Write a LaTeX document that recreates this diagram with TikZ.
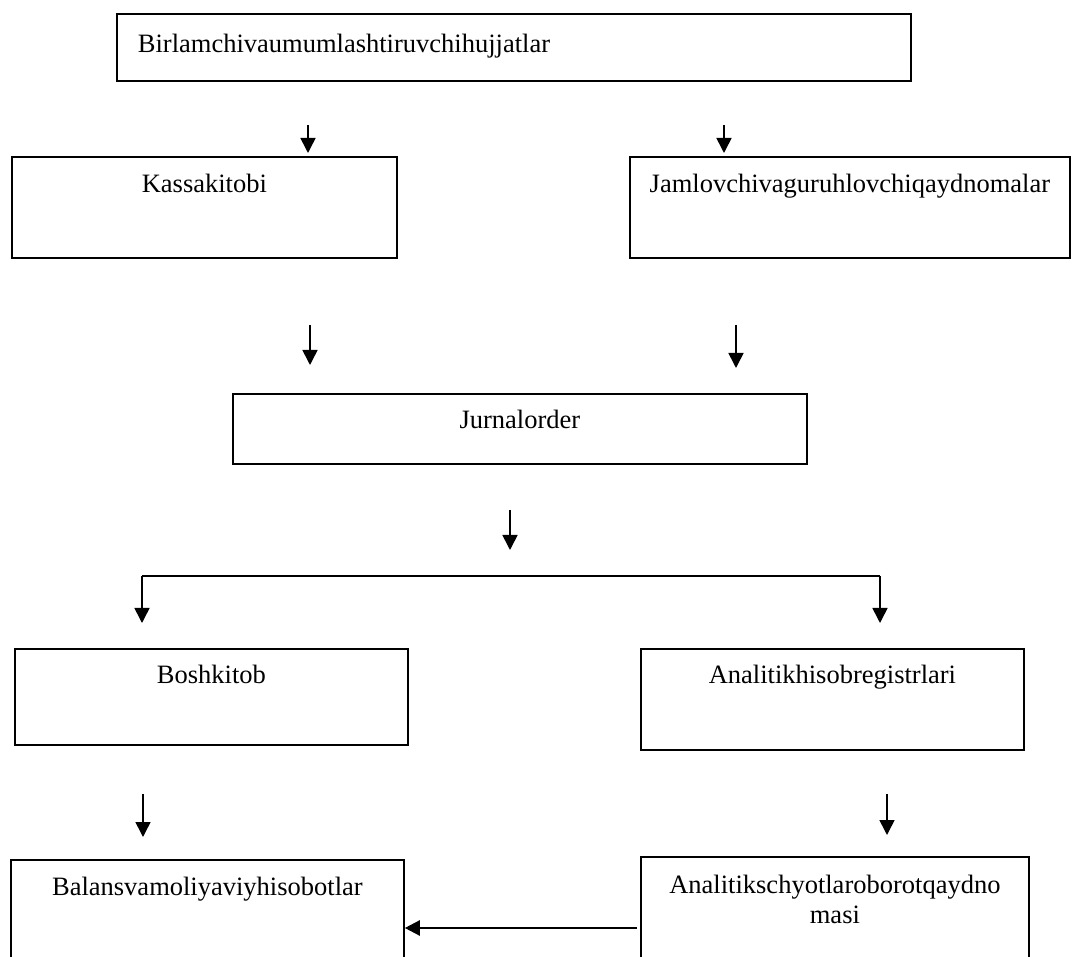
\documentclass[tikz,border=0pt]{standalone}
\usepackage{fontspec}
\setmainfont{Liberation Serif}
\usetikzlibrary{arrows.meta}
\begin{document}
\begin{tikzpicture}[x=1pt,y=-1pt,
  box/.style={draw, line width=1.8pt, inner sep=0pt, anchor=north west,
              align=center, font=\fontsize{26.5}{29.5}\selectfont},
  flow/.style={line width=1.6pt, -{Triangle[length=15pt,width=15pt]}},
  plain/.style={line width=1.6pt}]
\useasboundingbox (0,0) rectangle (1072,957);

% boxes
\node[box, text width=752pt, align=left, inner xsep=21pt,
      text height=39pt, text depth=28pt] (src) at (116,13)
      {Birlamchivaumumlashtiruvchihujjatlar};
\node[box, text width=385pt, text height=36pt, text depth=65pt] (kassa) at (11,156) {Kassakitobi};
\node[box, text width=440pt, text height=36pt, text depth=65pt] (jamlov) at (629,156) {Jamlovchivaguruhlovchiqaydnomalar};
\node[box, text width=574pt, text height=35pt, text depth=35pt] (jurnal) at (232,393) {Jurnalorder};
\node[box, text width=393pt, text height=35pt, text depth=61pt] (bosh) at (14,648) {Boshkitob};
\node[box, text width=383pt, text height=35pt, text depth=66pt] (analreg) at (640,648) {Analitikhisobregistrlari};
\node[box, text width=393pt, text height=36pt, text depth=75pt] (balans) at (10,859) {Balansvamoliyaviyhisobotlar};
\node[box, text width=388pt, text height=37pt, text depth=75pt] (oborot) at (640,856) {Analitikschyotlaroborotqaydno\\masi};

% column positions of the arrows
\coordinate (c1) at (308,0);
\coordinate (c2) at (724,0);
\coordinate (c3) at (310,0);
\coordinate (c4) at (736,0);
\coordinate (c5) at (510,0);
\coordinate (c6) at (143,0);
\coordinate (c7) at (887,0);
\coordinate (bl) at (142,576);
\coordinate (br) at (880,576);
\coordinate (split) at (510,576);
\coordinate (hy) at (0,928);

% connectors
\draw[flow, shorten <=43pt, shorten >=3pt] (src.south -| c1) -- (kassa.north -| c1);
\draw[flow, shorten <=43pt, shorten >=3pt] (src.south -| c2) -- (jamlov.north -| c2);
\draw[flow, shorten <=66pt, shorten >=28pt] (kassa.south -| c3) -- (jurnal.north -| c3);
\draw[flow, shorten <=66pt, shorten >=25pt] (jamlov.south -| c4) -- (jurnal.north -| c4);
\draw[flow, shorten <=45pt, shorten >=26pt] (jurnal.south -| c5) -- (split);
\draw[plain] (bl) -- (br);
\draw[flow, shorten >=25pt] (bl) -- (bosh.north -| bl);
\draw[flow, shorten >=25pt] (br) -- (analreg.north -| br);
\draw[flow, shorten <=48pt, shorten >=22pt] (bosh.south -| c6) -- (balans.north -| c6);
\draw[flow, shorten <=43pt, shorten >=21pt] (analreg.south -| c7) -- (oborot.north -| c7);
\draw[flow, line width=2.4pt, shorten <=3pt] (oborot.west |- hy) -- (balans.east |- hy);
\end{tikzpicture}
\end{document}
